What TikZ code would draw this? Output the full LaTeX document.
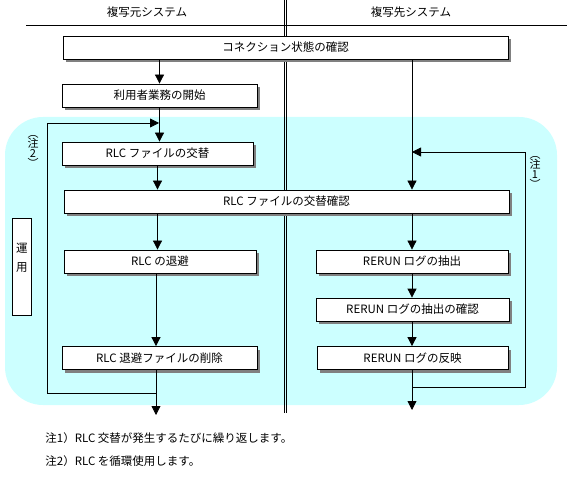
\documentclass[tikz,border=0pt]{standalone}
\usepackage{fontspec}
\setmainfont{Noto Sans CJK JP}
\usetikzlibrary{arrows.meta}
\usetikzlibrary{shadows}
\definecolor{panelcyan}{HTML}{CCFFFF}
\definecolor{shadowgray}{HTML}{808080}
\newcommand{\tightlines}{\lineskiplimit=-20pt\relax}
\tikzset{stepbox/.style={draw=black, fill=white, rectangle, inner sep=0pt, minimum height=23pt,
	drop shadow={shadow xshift=3pt, shadow yshift=-3pt, fill=shadowgray, opacity=1}}}

\begin{document}
\begin{tikzpicture}[x=1pt, y=-1pt, line width=0.8pt, font=\fontsize{11.5}{13}\selectfont]
	\useasboundingbox (0,0) rectangle (567,478);
	% operation area and lanes
	\fill[panelcyan, rounded corners=38pt] (5,117) rectangle (557,405);
	\draw (26,25) -- (567,25);
	\draw (284.3,0) -- (284.3,413);
	\draw (286.7,0) -- (286.7,413);

	\node (h1) at (147,12) {複写元システム};
	\node (h2) at (411,12) {複写先システム};

	\begin{scope}[every node/.style={stepbox}]
		\node[minimum width=445pt] (1) at (285.5,47.5) {コネクション状態の確認};
		\node[minimum width=195pt] (2) at (159.5,95.5) {利用者業務の開始};
		\node[minimum width=191pt] (3) at (157.5,153.5) {RLC ファイルの交替};
		\node[minimum width=445pt] (4) at (286.5,201.5) {RLC ファイルの交替確認};
		\node[minimum width=192pt] (5) at (160,261.5) {RLC の退避};
		\node[minimum width=195pt] (6) at (159.5,358) {RLC 退避ファイルの削除};
		\node[minimum width=192pt] (7) at (412,261.5) {RERUN ログの抽出};
		\node[minimum width=193pt] (8) at (412.5,309.5) {RERUN ログの抽出の確認};
		\node[minimum width=191pt] (9) at (412.5,358) {RERUN ログの反映};
	\end{scope}

	\node[draw, fill=white, minimum width=19pt, minimum height=97pt, inner sep=0pt] (op) at (22,266.5) {};
	\node[align=center, font=\fontsize{11.5}{19}\selectfont] (opt) at (22,257.5) {運\\用};

	\begin{scope}[every node/.style={align=center, inner sep=0pt,
	              font=\fontsize{11}{10}\selectfont\tightlines}]
		\node (t2) at (33,151) {︵\\注\\2\\︶};
		\node (t1) at (535,172) {︵\\注\\1\\︶};
	\end{scope}

	\coordinate (j2) at (159,123);
	\coordinate (c2) at (47,123);
	\coordinate (c3) at (47,393);
	\coordinate (d2) at (156,393);
	\coordinate (e1) at (156,415);
	\coordinate (j1) at (412,152);
	\coordinate (c1) at (525,152);
	\coordinate (c4) at (525,387);
	\coordinate (d1) at (412,387);
	\coordinate (e2) at (412,410);

	\begin{scope}[>={Triangle[width=9pt,length=9pt]}]
		\draw[->] (1.south -| 2) -- (2.north);
		\draw[->] (2.south) -- (2.south |- 3.north);
		\draw[->] (3.south) -- (3.south |- 4.north);
		\draw[->] (3.south |- 4.south) -- (3.south |- 5.north);
		\draw[->] (d2 |- 5.south) -- (d2 |- 6.north);
		\draw[->] (d2 |- 6.south) -- (e1);
		\draw[->] (d2) -- (c3) -- (c2) -- (j2);
		\draw[->] (1.south -| 7) -- (7.north |- 4.north);
		\draw[->] (7 |- 4.south) -- (7.north);
		\draw[->] (7.south) -- (8.north -| 7);
		\draw[->] (8.south -| 7) -- (9.north -| 7);
		\draw[->] (9.south -| 7) -- (e2);
		\draw[->] (d1) -- (c4) -- (c1) -- (j1);
	\end{scope}

	\node[anchor=west, inner sep=0pt] (n1) at (45,438) {注1）RLC 交替が発生するたびに繰り返します。};
	\node[anchor=west, inner sep=0pt] (n2) at (45,461) {注2）RLC を循環使用します。};
\end{tikzpicture}
\end{document}
